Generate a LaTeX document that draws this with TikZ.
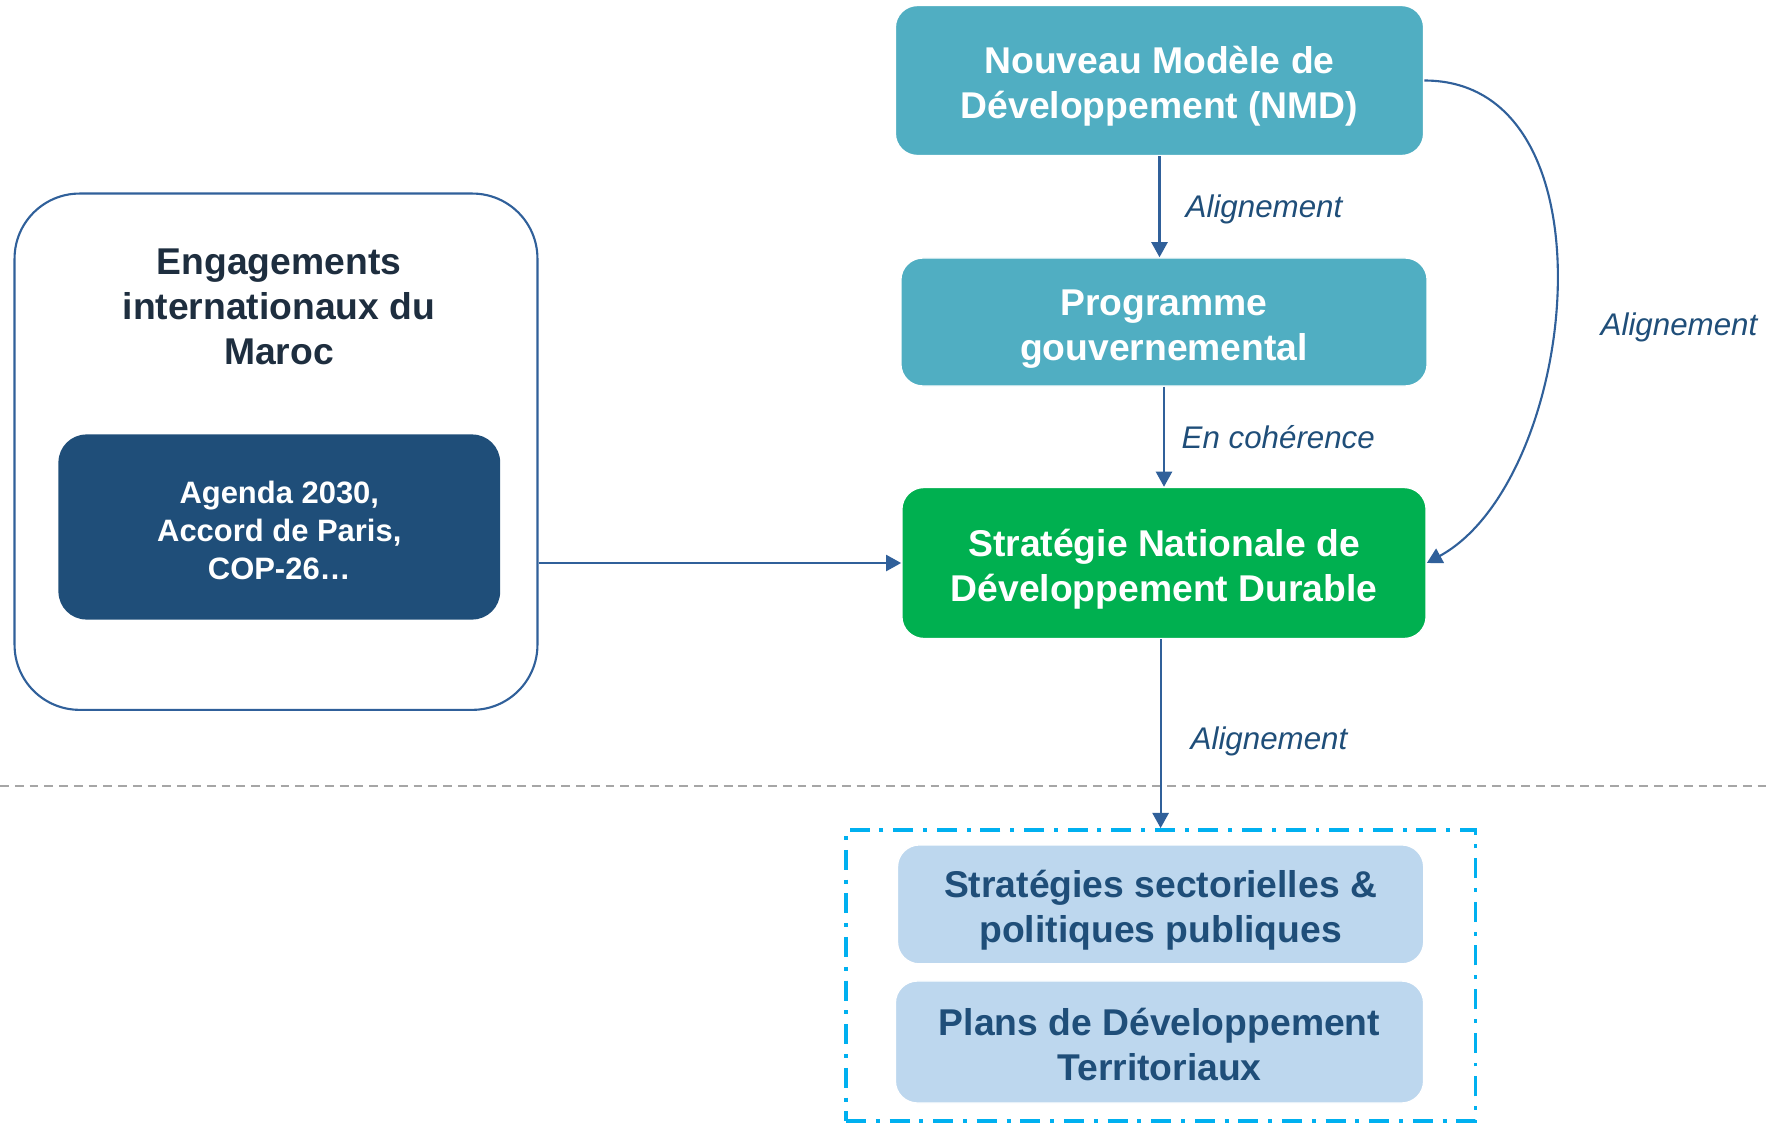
\documentclass[tikz,border=0pt]{standalone}
\usepackage{fontspec}
\setmainfont{Liberation Sans}
\usetikzlibrary{arrows.meta}
\definecolor{tealfill}{HTML}{50AEC2}
\definecolor{greenfill}{HTML}{00B050}
\definecolor{navyfill}{HTML}{1F4E79}
\definecolor{paleblue}{HTML}{BDD7EE}
\definecolor{framecyan}{HTML}{00B0F0}
\definecolor{linkblue}{HTML}{30609A}
\definecolor{labelblue}{HTML}{1F4E79}
\definecolor{titlenavy}{HTML}{1E2E3F}
\definecolor{rulegray}{HTML}{A6A6A6}
\tikzset{>={Triangle[length=4.3pt,width=4.6pt]}}
\tikzset{
	box/.style={rounded corners=0.22cm, inner sep=0pt, align=center, text depth=0pt, text height=21.8pt, font=\bfseries\fontsize{10.6}{12.8}\selectfont},
	tealbox/.style={box, fill=tealfill, text=white, draw=white, minimum width=5.26cm},
	greenbox/.style={box, fill=greenfill, text=white, draw=white, minimum width=5.24cm},
	palebox/.style={box, fill=paleblue, text=labelblue, draw=white, minimum width=5.27cm},
	link/.style={->, draw=linkblue, line width=0.6pt},
	linklabel/.style={anchor=west, text=labelblue, font=\itshape\fontsize{8.9}{10.7}\selectfont, inner sep=0pt}
}

\begin{document}
\begin{tikzpicture}[x=0.01cm, y=-0.01cm]
	\useasboundingbox (0,0) rectangle (1766,1124);
	% left block
	\node (outer) at (276,451.7) [draw=linkblue, line width=0.6pt, rounded corners=0.65cm, minimum width=5.226cm, minimum height=5.16cm] {};
	\node (title) at (279,305) [align=center, inner sep=0pt, text depth=0pt, text height=33.6pt, text=titlenavy, font=\bfseries\fontsize{10.6}{12.8}\selectfont] {Engagements\\internationaux du\\Maroc};
	\node (agenda) at (279.3,527) [box, rounded corners=0.28cm, fill=navyfill, text=white, minimum width=4.415cm, minimum height=1.85cm, text height=29.6pt, font=\bfseries\fontsize{8.8}{10.7}\selectfont] {Agenda 2030,\\Accord de Paris,\\COP-26…};
	% right column
	\node (nmd) at (1159.5,80.5) [tealbox, minimum width=5.28cm, minimum height=1.5cm] {Nouveau Modèle de\\Développement (NMD)};
	\node (prog) at (1164,322) [tealbox, minimum height=1.28cm] {Programme\\gouvernemental};
	\node (sndd) at (1164,563) [greenbox, minimum height=1.51cm] {Stratégie Nationale de\\Développement Durable};
	% territorial level
	\draw[rulegray, line width=0.6pt, dash pattern=on 2.5pt off 1.7pt] (0,786) -- (1766,786);
	\node (frame) at (1160.6,975.4) [draw=framecyan, line width=1pt, dash pattern=on 5.7pt off 2.8pt on 1.1pt off 2.8pt, minimum width=6.29cm, minimum height=2.91cm, inner sep=0pt] {};
	\node (strat) at (1160.6,904.4) [palebox, minimum width=5.26cm, minimum height=1.19cm] {Stratégies sectorielles \&\\politiques publiques};
	\node (plans) at (1159.5,1042) [palebox, minimum width=5.28cm, minimum height=1.22cm] {Plans de Développement\\Territoriaux};
	% connectors
	\draw[link] (nmd.south) -- (nmd.south |- prog.north);
	\draw[link] (prog.south) -- (sndd.north);
	\draw[link] (frame.north |- sndd.south) -- (frame.north);
	\draw[link] (outer.east |- sndd.west) -- (sndd.west);
	\draw[link] (nmd.east) .. controls +(196,0) and +(152,-83) .. (sndd.east);
	\node at (1185,209.5) [linklabel] {Alignement};
	\node at (1181,437) [linklabel] {En cohérence};
	\node at (1600,327.5) [linklabel] {Alignement};
	\node at (1190,741) [linklabel] {Alignement};
\end{tikzpicture}
\end{document}
